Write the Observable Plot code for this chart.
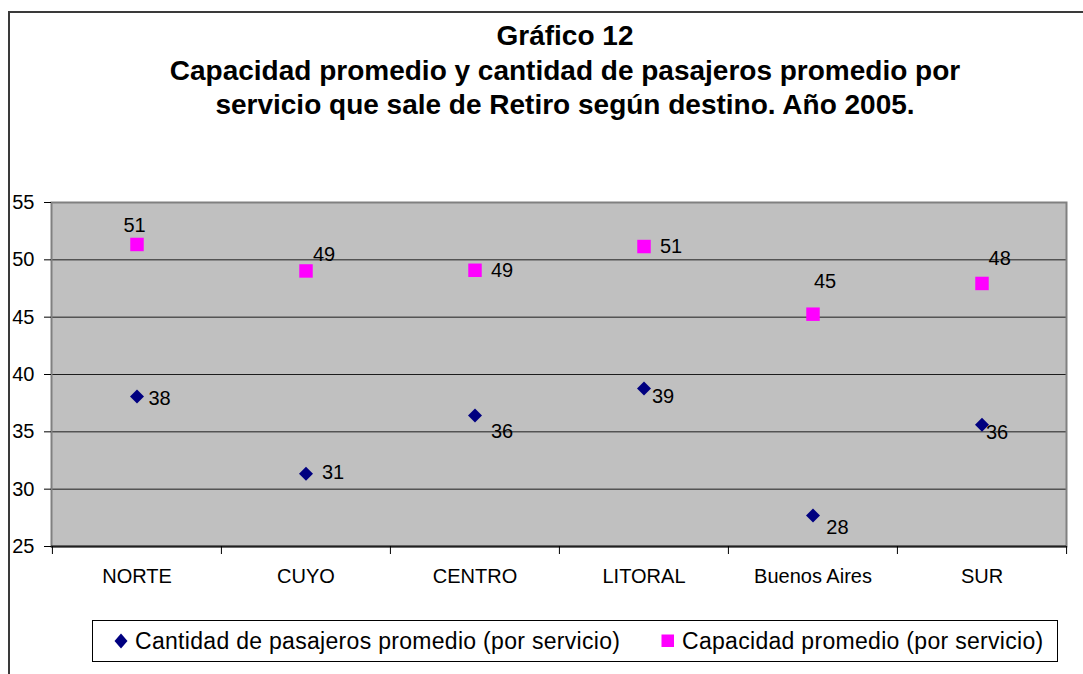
<!DOCTYPE html>
<html lang="es">
<head>
<meta charset="utf-8">
<script src="https://cdn.jsdelivr.net/npm/d3@7"></script>
<script src="https://cdn.jsdelivr.net/npm/@observablehq/plot@0.6"></script>
<style>
  html, body { margin: 0; padding: 0; background: #fff; }
  body { width: 1083px; height: 674px; overflow: hidden; position: relative; font-family: "Liberation Sans", Arial, sans-serif; }
  #frame { position: absolute; left: 8px; top: 11px; width: 1100px; height: 700px; border: 2px solid #3a3a3a; box-sizing: border-box; }
  #title { position: absolute; left: 0; top: 19px; width: 1130px; text-align: center; font-weight: bold; font-size: 28px; line-height: 34.5px; color: #000; }
  #chart { position: absolute; left: 0; top: 190px; }
  #legend { position: absolute; left: 92px; top: 620px; width: 966px; height: 42px; border: 1px solid #000; box-sizing: border-box; background: #fff; }
  .item { position: absolute; top: 0; height: 40px; display: flex; align-items: center; font-size: 23px; letter-spacing: 0.3px; color: #000; white-space: nowrap; }
  .item svg { margin-right: 7px; }
</style>
</head>
<body>
<div id="frame"></div>
<div id="title">Gráfico 12<br>Capacidad promedio y cantidad de pasajeros promedio por<br>servicio que sale de Retiro según destino. Año 2005.</div>
<div id="chart"></div>
<div id="legend">
  <div class="item" style="left:21px"><svg width="14" height="16" viewBox="0 0 14 16"><polygon points="7,0.5 13.5,8 7,15.5 0.5,8" fill="#000080"/></svg><span id="leg1"></span></div>
  <div class="item" style="left:568px"><svg width="14" height="14" viewBox="0 0 14 14"><rect x="0.5" y="0.5" width="12.5" height="12.5" fill="#ff00ff"/></svg><span id="leg2"></span></div>
</div>
<script>
// ---- data ----
const categories = ["NORTE", "CUYO", "CENTRO", "LITORAL", "Buenos Aires", "SUR"];
const pasajeros = [38.08, 31.34, 36.42, 38.78, 27.70, 35.61];
const capacidad = [51.34, 49.03, 49.09, 51.16, 45.26, 47.94];
const yTicks = [25, 30, 35, 40, 45, 50, 55];
const seriesNames = ["Cantidad de pasajeros promedio (por servicio)", "Capacidad promedio (por servicio)"];

// ---- label layout nudges (pixels, relative to each marker) ----
const capLabelDx = [-13.5, 7, 16, 16, 1, 6.6];
const capLabelDy = [-18.5, -16.4, 0, 0, -33, -24.7];
const pasLabelDx = [11.5, 16, 16, 8, 13.3, 4];
const pasLabelDy = [2, -1, 15.7, 8, 12, 8];

document.getElementById("leg1").textContent = seriesNames[0];
document.getElementById("leg2").textContent = seriesNames[1];

const pasData = categories.map((c, i) => ({cat: c, v: pasajeros[i]}));
const capData = categories.map((c, i) => ({cat: c, v: capacidad[i]}));
const fmt = d3.format(".0f");

const W = 1083, H = 410, ML = 51, MR = 17, MT = 12, MB = 54;
const bw = (W - ML - MR) / categories.length;

const labelMarks = [];
categories.forEach((c, i) => {
  labelMarks.push(Plot.text([capData[i]], {x: "cat", y: "v", text: d => fmt(d.v), textAnchor: "start", dx: capLabelDx[i], dy: capLabelDy[i], fill: "#000", fontSize: 20}));
  labelMarks.push(Plot.text([pasData[i]], {x: "cat", y: "v", text: d => fmt(d.v), textAnchor: "start", dx: pasLabelDx[i], dy: pasLabelDy[i], fill: "#000", fontSize: 20}));
});

const chart = Plot.plot({
  width: W, height: H,
  marginLeft: ML, marginRight: MR, marginTop: MT, marginBottom: MB,
  style: {fontFamily: "'Liberation Sans', Arial, sans-serif", fontSize: "20px", color: "#000", background: "transparent", overflow: "visible"},
  x: {type: "band", domain: categories, padding: 0, label: null},
  y: {domain: [25, 55], label: null},
  marks: [
    Plot.frame({fill: "#c0c0c0"}),
    Plot.ruleY(yTicks.slice(1, -1), {stroke: "#000", strokeWidth: 1, strokeOpacity: 0.85}),
    Plot.frame({stroke: "#808080", strokeWidth: 2}),
    Plot.ruleY([25], {stroke: "#202020", strokeWidth: 2}),
    Plot.axisY({ticks: yTicks, tickSize: 7, tickPadding: 10, stroke: "#000", fill: "#000", fontSize: 20, label: null}),
    Plot.axisX({tickSize: 8, tickFormat: () => "", dx: -bw / 2, stroke: "#000", label: null}),
    Plot.axisX({ticks: [categories[categories.length - 1]], tickSize: 8, tickFormat: () => "", dx: bw / 2, stroke: "#000", label: null}),
    Plot.axisX({tickSize: 0, tickPadding: 22, fill: "#000", fontSize: 20, label: null}),
    Plot.dot(capData, {x: "cat", y: "v", symbol: "square", r: 7.6, fill: "#ff00ff", stroke: "none"}),
    Plot.dot(pasData, {x: "cat", y: "v", symbol: "diamond2", r: 6.3, fill: "#000080", stroke: "none"}),
    ...labelMarks
  ]
});
document.getElementById("chart").appendChild(chart);
</script>
</body>
</html>
